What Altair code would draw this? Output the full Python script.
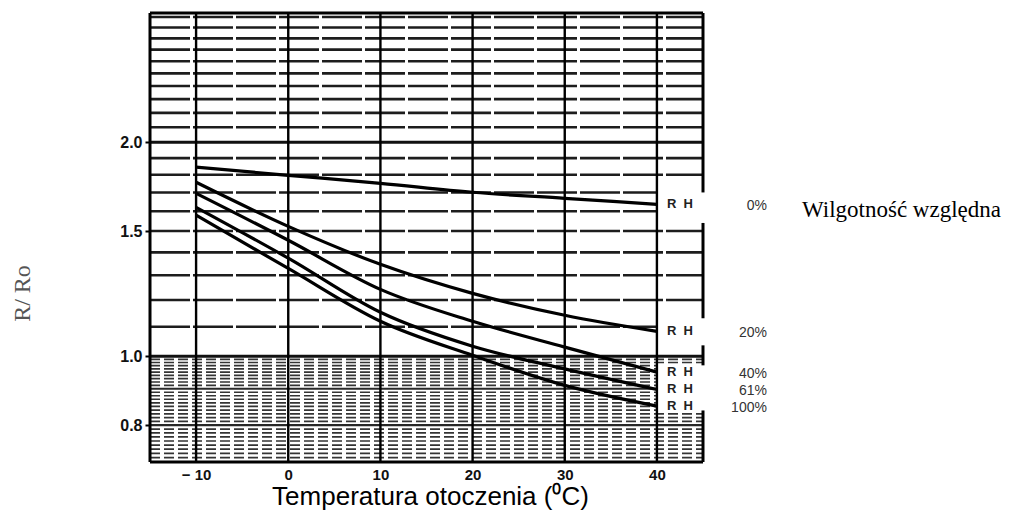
import altair as alt
import pandas as pd

# ---- data ----
temps = [-10, 0, 10, 20, 30, 40]
rh_0 = [1.845, 1.797, 1.751, 1.701, 1.668, 1.636]
rh_20 = [1.757, 1.523, 1.347, 1.226, 1.142, 1.084]
rh_40 = [1.695, 1.456, 1.242, 1.120, 1.030, 0.950]
rh_61 = [1.620, 1.374, 1.153, 1.033, 0.960, 0.898]
rh_100 = [1.579, 1.329, 1.120, 1.003, 0.910, 0.851]
series_names = ["0%", "20%", "40%", "61%", "100%"]
series_vals = [rh_0, rh_20, rh_40, rh_61, rh_100]

x_ticks = [-10, 0, 10, 20, 30, 40]
y_ticks = [0.8, 1.0, 1.5, 2.0]

major_grid = [round(0.8 + 0.1 * i, 1) for i in range(23)]          # 0.8 .. 3.0
minor_grid = [round(0.71 + 0.01 * i, 2) for i in range(29)]         # 0.71 .. 0.99
minor_grid = [v for v in minor_grid if v not in (0.8, 0.9)]
heavy_grid = [1.0, 2.0]
# value bands where the grid stops at 40 (room for the "R H" labels)
gap_bands = [(1.54, 1.70), (1.036, 1.131), (0.839, 0.971)]
# right frame segments (value ranges)
frame_right = [(1.70, 3.04), (1.131, 1.54), (0.971, 1.036), (0.71, 0.839)]

X_MIN, X_MAX = -15, 45
Y_MIN, Y_MAX = 0.71, 3.04

# ---- tables ----
curves = pd.DataFrame(
    [{"t": t, "r": v, "rh": n} for n, vals in zip(series_names, series_vals) for t, v in zip(temps, vals)]
)
ends = pd.DataFrame({"t": [temps[-1]] * len(series_names),
                     "r": [vals[-1] for vals in series_vals],
                     "rh": series_names})

def in_gap(v):
    return any(lo <= v <= hi for lo, hi in gap_bands)

hgrid = []
for v in major_grid:
    hgrid.append({"t": X_MIN, "t2": 40 if in_gap(v) else X_MAX, "r": v,
                  "kind": "heavy" if v in heavy_grid else ("major_lo" if v < 1 else "major")})
for v in minor_grid:
    hgrid.append({"t": X_MIN, "t2": 40 if in_gap(v) else X_MAX, "r": v, "kind": "minor"})
hgrid = pd.DataFrame(hgrid)

vgrid = pd.DataFrame({"t": x_ticks, "r": [Y_MIN] * len(x_ticks), "r2": [Y_MAX] * len(x_ticks)})

frame_h = pd.DataFrame({"r": [Y_MIN, Y_MAX], "t": [X_MIN, X_MIN], "t2": [X_MAX, X_MAX]})
frame_v = pd.DataFrame(
    [{"t": X_MIN, "r": Y_MIN, "r2": Y_MAX}] +
    [{"t": X_MAX, "r": lo, "r2": hi} for lo, hi in frame_right]
)

xs = alt.Scale(domain=[X_MIN, X_MAX], nice=False, zero=False)
ys = alt.Scale(type="log", domain=[Y_MIN, Y_MAX], nice=False)

x_axis = alt.Axis(
    values=x_ticks, format="d",
    labelExpr="datum.value == -10 ? '\u2212 10' : datum.label",
    ticks=False, domain=False, grid=False,
    labelFont="Liberation Sans", labelFontWeight="bold", labelFontSize=15,
    labelColor="#111", labelPadding=5,
    title="Temperatura otoczenia (\u2070C)", titleFont="Liberation Sans",
    titleFontSize=26, titleFontWeight="normal", titleColor="black",
    titleX=280, titleY=42, titleBaseline="alphabetic", titleAlign="center")
y_axis = alt.Axis(
    values=y_ticks, format=".1f",
    tickSize=5, tickWidth=2, tickColor="black", domain=False, grid=False,
    labelFont="Liberation Sans", labelFontWeight="bold", labelFontSize=16,
    labelColor="#111", labelPadding=3,
    title="R/ Ro", titleFont="Liberation Serif", titleFontSize=24,
    titleFontWeight="normal", titleColor="#555", titleAngle=270,
    titleX=-128, titleY=280, titleBaseline="middle", titleAlign="center")

X = alt.X("t:Q", scale=xs, axis=x_axis)
Y = alt.Y("r:Q", scale=ys, axis=y_axis)

kinds = ["heavy", "major", "major_lo", "minor"]

# ---- layers ----
hg = alt.Chart(hgrid).mark_rule(color="#111").encode(
    x=X, x2="t2:Q", y=Y,
    strokeWidth=alt.StrokeWidth("kind:N", scale=alt.Scale(domain=kinds, range=[3, 1.7, 2.2, 1.1]), legend=None),
    strokeDash=alt.StrokeDash("kind:N", scale=alt.Scale(
        domain=kinds, range=[[1, 0], [40, 3], [1, 0], [10, 4]]), legend=None),
    opacity=alt.Opacity("kind:N", scale=alt.Scale(domain=kinds, range=[1, 0.85, 0.95, 0.6]), legend=None),
)

vg = alt.Chart(vgrid).mark_rule(color="black", strokeWidth=2.4).encode(x=X, y=Y, y2="r2:Q")

fh = alt.Chart(frame_h).mark_rule(color="black", strokeWidth=3).encode(x=X, x2="t2:Q", y=Y)
fv = alt.Chart(frame_v).mark_rule(color="black", strokeWidth=3).encode(x=X, y=Y, y2="r2:Q")

lines = alt.Chart(curves).mark_line(color="black", strokeWidth=3.2, interpolate="monotone").encode(
    x=X, y=Y, detail="rh:N")

rh_txt = alt.Chart(ends).mark_text(
    text="R\u00a0\u00a0H", align="left", baseline="middle", dx=10, font="Liberation Sans",
    fontSize=13, fontWeight="bold", color="#222"
).encode(x=X, y=Y)

pct_txt = alt.Chart(ends).mark_text(
    align="right", baseline="middle", dx=110, dy=2, font="Liberation Sans",
    fontSize=14, color="#333"
).encode(x=X, y=Y, text="rh:N")

side_title = alt.Chart(pd.DataFrame({"s": ["Wilgotno\u015b\u0107 wzgl\u0119dna"]})).mark_text(
    align="left", baseline="middle", font="Liberation Serif", fontSize=23, color="black"
).encode(x=alt.value(652), y=alt.value(197), text="s:N")

chart = alt.layer(hg, vg, fh, fv, lines, rh_txt, pct_txt, side_title).properties(
    width=553, height=449,
    autosize=alt.AutoSizeParams(type="none"),
    padding={"left": 150, "top": 13, "right": 312, "bottom": 50},
    background="white",
).configure_view(stroke=None)

chart.save("out.html", embed_options={"renderer": "svg", "actions": False})
